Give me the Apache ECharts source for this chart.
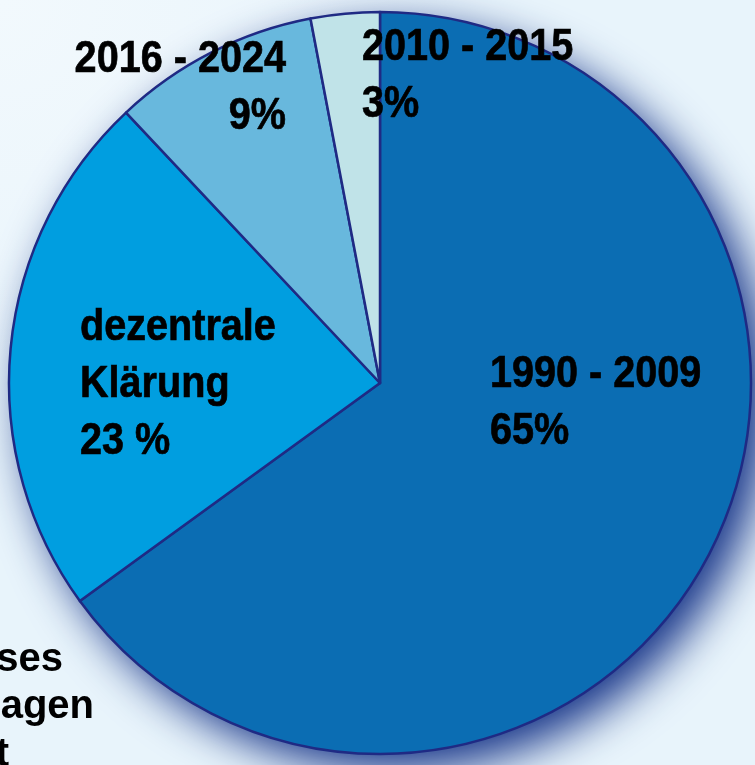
<!DOCTYPE html>
<html>
<head>
<meta charset="utf-8">
<script src="https://cdn.jsdelivr.net/npm/echarts@6/dist/echarts.min.js"></script>
<style>
  html, body { margin: 0; padding: 0; background: #e8f4fb; }
  #chart { width: 755px; height: 765px; }
</style>
</head>
<body>
<div id="chart"></div>
<script>
// Anteile der Kläranlagen nach Zeitraum
const labels = ["1990 - 2009", "dezentrale\nKlärung", "2016 - 2024", "2010 - 2015"];
const values = [65, 23, 9, 3];
const valueTexts = ["65%", "23 %", "9%", "3%"];
const colors = ["#0b6db3", "#009ee0", "#68b8dd", "#c0e3e8"];

// Lage der Beschriftungen: x, Grundlinie der ersten Zeile, Ausrichtung
const labelPos = [
  { x: 490, y: 391, align: "left" },
  { x: 80, y: 344, align: "left" },
  { x: 286, y: 76, align: "right" },
  { x: 362, y: 64, align: "left" },
];
const lineGap = 57;

const chart = echarts.init(document.getElementById("chart"));
const labelFont = "bold 45px 'Liberation Sans', Arial, sans-serif";
const sideFont = "bold 40px 'Liberation Sans', Arial, sans-serif";

// Beschriftungstexte als Grafik (schmal gestaucht wie im Original)
const labelGraphics = [];
labels.forEach((name, i) => {
  const lines = (name + "\n" + valueTexts[i]).split("\n");
  lines.forEach((line, k) => {
    labelGraphics.push({
      type: "text",
      x: labelPos[i].x,
      y: labelPos[i].y + k * lineGap - 16,
      scaleX: 0.88,
      z: 10,
      style: {
        text: line,
        textAlign: labelPos[i].align,
        textVerticalAlign: "middle",
        font: labelFont,
        fill: "#000",
        stroke: "#000",
        lineWidth: 0.7,
      },
    });
  });
});

// abgeschnittener Text am linken Rand
const sideTexts = [
  { text: "sses", x: 63, y: 660 },
  { text: "agen", x: 94, y: 707 },
  { text: "t", x: 9, y: 755 },
];
sideTexts.forEach((t) => {
  labelGraphics.push({
    type: "text",
    x: t.x,
    y: t.y,
    z: 10,
    style: { text: t.text, textAlign: "right", textVerticalAlign: "middle", font: sideFont, fill: "#000" },
  });
});

const option = {
  backgroundColor: {
    type: "radial", x: 0, y: 0, r: 0.6,
    colorStops: [
      { offset: 0, color: "#f2f9fd" },
      { offset: 1, color: "#e8f4fb" },
    ],
  },
  animation: false,
  graphic: labelGraphics,
  series: [
    {
      // Schatten unter dem Kreis
      type: "pie",
      silent: true,
      center: [380, 383],
      radius: [0, 371],
      label: { show: false },
      z: 1,
      itemStyle: {
        color: "#0b6db3",
        shadowBlur: 45,
        shadowOffsetX: 16,
        shadowOffsetY: 16,
        shadowColor: "rgba(20, 50, 135, 1)",
      },
      data: [{ value: 1, name: "" }],
    },
    {
      type: "pie",
      center: [380, 383],
      radius: [0, 371],
      startAngle: 90,
      clockwise: true,
      z: 2,
      itemStyle: {
        borderColor: "#1f2a84",
        borderWidth: 2.5,
      },
      label: { show: false },
      data: values.map((v, i) => ({
        value: v,
        name: labels[i],
        itemStyle: { color: colors[i] },
      })),
    },
  ],
};

chart.setOption(option);
</script>
</body>
</html>
